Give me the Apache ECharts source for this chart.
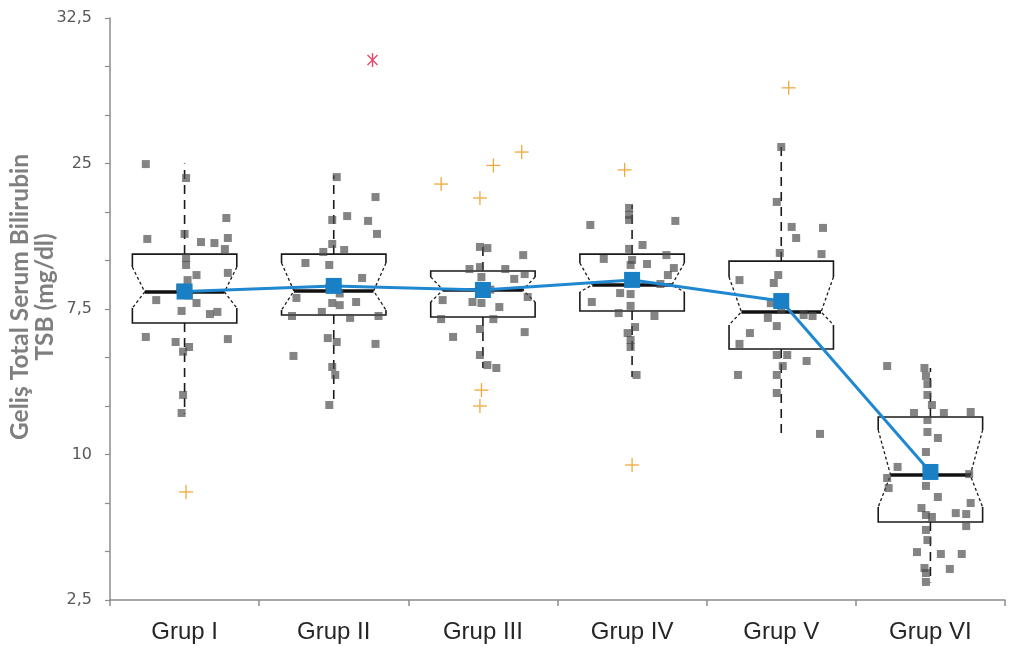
<!DOCTYPE html>
<html>
<head>
<meta charset="utf-8">
<script src="https://cdn.jsdelivr.net/npm/echarts@6/dist/echarts.min.js"></script>
<style>html,body{margin:0;padding:0;background:#fff}#c{width:1011px;height:666px}</style>
</head>
<body>
<div id="c"></div>
<script>
// ---------- data ----------
const categories = ['Grup I', 'Grup II', 'Grup III', 'Grup IV', 'Grup V', 'Grup VI'];
const yTickValues = [2.5, 10, 17.5, 25, 32.5];
const yTickLabels = ['2,5', '10', '7,5', '25', '32,5'];
const yMinorTicks = [2.5, 5, 7.5, 10, 12.5, 15, 17.5, 20, 22.5, 25, 27.5, 30, 32.5];
const yTitle = 'Geliş Total Serum Bilirubin\nTSB (mg/dl)';

const whiskerLow  = [12.1, 12.55, 14.46, 13.99, 11.0, 3.4];
const boxLow      = [16.78, 17.19, 17.09, 17.4, 15.44, 6.52];
const notchLow    = [17.55, 17.45, 17.86, 18.38, 16.68, 7.29];
const medians     = [18.38, 18.43, 18.48, 18.74, 17.35, 8.94];
const notchHigh   = [19.66, 19.87, 19.15, 19.87, 19.15, 11.26];
const boxHigh     = [20.33, 20.33, 19.46, 20.33, 19.97, 11.93];
const whiskerHigh = [25.0, 24.4, 20.7, 22.86, 25.95, 14.46];
const means       = [18.4, 18.69, 18.48, 19.0, 17.91, 9.1];

// jitter (in category units) and values of the individual points
const ptsJitter = [
  [-0.26,0.01,0.28,-0.25,0,0.11,0.2,0.29,0.27,0.01,0.01,0.08,0.29,0.02,-0.19,-0.03,0.03,0.08,-0.02,0.17,0.22,-0.26,-0.06,0.03,0.29,-0.01,-0.01,-0.02],
  [0.02,0.28,0.09,-0.01,0.23,0.29,-0.01,0.07,-0.07,-0.19,-0.03,0.19,-0.03,0.04,0.15,-0.25,-0.01,-0.08,0.11,-0.28,0.3,0.04,-0.04,0.02,0.28,-0.27,-0.01,0.01,-0.03],
  [-0.02,0.03,0.27,-0.09,-0.02,0.15,0.21,0.28,-0.01,-0.27,-0.07,-0.01,0.11,0.3,-0.28,0.07,-0.2,-0.02,0.28,-0.02,0.03,0.09,-0.02,0.05],
  [-0.02,-0.02,-0.02,-0.28,0.29,0.07,-0.02,-0.19,0,0.23,0.1,-0.01,0.28,0.24,0.19,-0.08,-0.01,-0.27,-0.09,-0.01,0.15,0.02,-0.03,-0.01,-0.01,0.03],
  [0,-0.03,0.07,0.1,0.28,-0.01,0.27,-0.28,-0.02,-0.05,-0.09,-0.03,0.15,0.21,-0.21,-0.28,-0.03,0.04,0.17,0.01,-0.03,-0.29,-0.03,0.26,-0.07,0],
  [-0.29,-0.04,-0.03,-0.02,-0.02,0.01,-0.11,0.09,0.27,-0.02,-0.02,0.05,-0.03,-0.22,-0.29,0.26,-0.03,-0.28,0.05,0.27,-0.06,-0.03,0.01,0.17,0.24,0.24,-0.03,-0.02,-0.09,0.07,0.21,0.13,-0.04,-0.03,-0.03]
];
const ptsValues = [
  [24.97,24.25,22.19,21.11,21.37,20.95,20.9,21.16,20.59,20.13,19.77,19.25,19.36,18.99,17.96,18.6,18.2,17.81,17.4,17.24,17.35,16.06,15.8,15.54,15.95,15.3,13.07,12.14],
  [24.3,23.27,22.29,22.09,22.04,21.37,20.85,20.54,20.44,19.87,19.77,19.1,18.6,18.3,17.86,18.07,17.81,17.35,17.04,17.14,17.14,17.7,16.0,15.8,15.7,15.08,14.51,14.1,12.55],
  [20.7,20.64,20.28,19.56,19.66,19.56,19.05,19.3,19.15,17.96,17.86,17.81,17.6,18.12,16.98,16.98,16.06,16.47,16.31,15.13,14.61,14.46,18.7,18.5],
  [22.71,22.35,22.09,21.83,22.04,20.8,20.6,20.08,20.03,20.28,19.82,19.77,19.61,19.25,18.79,18.32,18.27,17.86,17.29,17.66,17.14,16.57,16.26,15.9,15.54,14.1],
  [25.85,23.02,21.73,21.16,21.68,20.39,20.33,18.99,19.25,18.84,17.04,16.62,17.19,17.14,16.26,15.7,15.13,15.13,14.82,14.56,14.1,14.1,13.17,11.06,17.8,17.5],
  [14.56,14.46,14.05,13.63,13.07,12.55,12.14,12.14,12.19,11.78,11.16,10.85,10.13,9.36,8.79,8.99,8.38,8.27,7.81,7.5,7.24,6.88,6.78,6.98,6.93,6.31,6.11,5.59,4.97,4.87,4.87,4.1,4.15,3.89,3.43]
];

// outliers: group index, jitter, value
const outlierGroup  = [0, 2, 2, 2, 2, 2, 2, 3, 3, 4];
const outlierJitter = [0.01, -0.28, -0.02, 0.07, 0.26, -0.01, -0.02, -0.05, 0, 0.05];
const outlierValue  = [8.07, 23.94, 23.22, 24.9, 25.59, 13.32, 12.5, 24.67, 9.46, 28.9];
// extreme outlier (asterisk)
const extremeGroup = [1];
const extremeJitter = [0.26];
const extremeValue = [30.33];

// ---------- build ----------
const boxData = categories.map((c, i) => [i, whiskerLow[i], boxLow[i], notchLow[i], medians[i], notchHigh[i], boxHigh[i], whiskerHigh[i]]);
const pointData = [];
ptsValues.forEach((arr, g) => arr.forEach((v, k) => pointData.push([g + ptsJitter[g][k], v])));
const outlierData = outlierValue.map((v, k) => [outlierGroup[k] + outlierJitter[k], v]);
const extremeData = extremeValue.map((v, k) => [extremeGroup[k] + extremeJitter[k], v]);

const BOX_FRAC = 0.70;
const NOTCH_INDENT = 0.083;

function renderBox(params, api) {
  const x = api.value(0);
  const bw = api.size([1, 0])[0];
  const half = bw * BOX_FRAC / 2;
  const ind = bw * NOTCH_INDENT;
  const cx = api.coord([x, api.value(4)])[0];
  const y = k => api.coord([x, api.value(k)])[1];
  const wl = y(1), bl = y(2), nl = y(3), md = y(4), nh = y(5), bh = y(6), wh = y(7);
  const L = cx - half, R = cx + half;
  const solid = { stroke: '#1a1a1a', lineWidth: 1.6, fill: null };
  const dashed = { stroke: '#1a1a1a', lineWidth: 1.3, fill: null, lineDash: [3, 2.5] };
  const whisk = { stroke: '#1a1a1a', lineWidth: 1.6, fill: null, lineDash: [9, 6] };
  return {
    type: 'group',
    children: [
      { type: 'line', shape: { x1: cx, y1: bh, x2: cx, y2: wh }, style: whisk },
      { type: 'line', shape: { x1: cx, y1: bl, x2: cx, y2: wl }, style: whisk },
      { type: 'polyline', shape: { points: [[L, nh], [L, bh], [R, bh], [R, nh]] }, style: solid },
      { type: 'polyline', shape: { points: [[L, nl], [L, bl], [R, bl], [R, nl]] }, style: solid },
      { type: 'polyline', shape: { points: [[L, nh], [L + ind, md], [L, nl]] }, style: dashed },
      { type: 'polyline', shape: { points: [[R, nh], [R - ind, md], [R, nl]] }, style: dashed },
      { type: 'line', shape: { x1: L + ind, y1: md, x2: R - ind, y2: md }, style: { stroke: '#111', lineWidth: 3.5 } }
    ]
  };
}

function renderPlus(params, api) {
  const p = api.coord([api.value(0), api.value(1)]);
  const a = 7;
  const st = { stroke: '#f2a93b', lineWidth: 1.3 };
  return {
    type: 'group',
    children: [
      { type: 'line', shape: { x1: p[0] - a, y1: p[1], x2: p[0] + a, y2: p[1] }, style: st },
      { type: 'line', shape: { x1: p[0], y1: p[1] - a, x2: p[0], y2: p[1] + a }, style: st }
    ]
  };
}

function renderStar(params, api) {
  const p = api.coord([api.value(0), api.value(1)]);
  const a = 7, d = 5;
  const st = { stroke: '#e5486a', lineWidth: 1.4 };
  return {
    type: 'group',
    children: [
      { type: 'line', shape: { x1: p[0], y1: p[1] - a, x2: p[0], y2: p[1] + a }, style: st },
      { type: 'line', shape: { x1: p[0] - d, y1: p[1] - d, x2: p[0] + d, y2: p[1] + d }, style: st },
      { type: 'line', shape: { x1: p[0] - d, y1: p[1] + d, x2: p[0] + d, y2: p[1] - d }, style: st }
    ]
  };
}

const chart = echarts.init(document.getElementById('c'), null, { renderer: 'canvas' });
chart.setOption({
  animation: false,
  backgroundColor: '#ffffff',
  grid: { left: 110, right: 6, top: 18, bottom: 66 },
  xAxis: [
    {
      type: 'category',
      data: categories,
      axisLine: { onZero: false, lineStyle: { color: '#8c8c8c', width: 1.5 } },
      axisTick: { show: true, length: 6, lineStyle: { color: '#8c8c8c', width: 1.5 } },
      axisLabel: { color: '#262626', fontSize: 24, fontFamily: 'Liberation Sans', margin: 20 },
      splitLine: { show: false }
    },
    { type: 'value', min: -0.5, max: 5.5, show: false }
  ],
  yAxis: {
    type: 'value',
    min: 2.5,
    max: 32.5,
    axisLine: { show: true, onZero: false, lineStyle: { color: '#8c8c8c', width: 1.5 } },
    axisTick: { show: true, length: 5, customValues: yMinorTicks, lineStyle: { color: '#8c8c8c', width: 1.2 } },
    axisLabel: {
      customValues: yTickValues,
      color: '#595959', fontSize: 16, fontFamily: 'DejaVu Sans', margin: 18,
      formatter: function (v) {
        let best = 0;
        for (let i = 1; i < yTickValues.length; i++) {
          if (Math.abs(yTickValues[i] - v) < Math.abs(yTickValues[best] - v)) best = i;
        }
        return yTickLabels[best];
      }
    },
    splitLine: { show: false }
  },
  graphic: [{
    type: 'text',
    x: 33, y: 297,
    rotation: Math.PI / 2,
    style: {
      text: yTitle,
      align: 'center', verticalAlign: 'middle',
      fill: '#7f7f7f', font: 'bold 24.5px Lato', lineHeight: 25
    }
  }],
  series: [
    { type: 'custom', xAxisIndex: 1, renderItem: renderBox, data: boxData, z: 1, silent: true },
    {
      type: 'scatter', xAxisIndex: 1, data: pointData, symbol: 'rect', symbolSize: 8, z: 2,
      itemStyle: { color: 'rgba(75,75,75,0.85)' }
    },
    { type: 'custom', xAxisIndex: 1, renderItem: renderPlus, data: outlierData, z: 2 },
    { type: 'custom', xAxisIndex: 1, renderItem: renderStar, data: extremeData, z: 2 },
    {
      type: 'line', xAxisIndex: 0, data: means, symbol: 'rect', symbolSize: 16, z: 5,
      lineStyle: { color: '#1f88d0', width: 3 },
      itemStyle: { color: '#1a80c6' }
    }
  ]
});
</script>
</body>
</html>
